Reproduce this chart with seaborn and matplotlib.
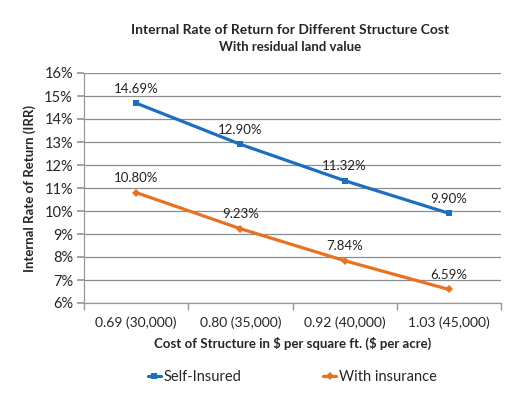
import numpy as np
import pandas as pd
import matplotlib.pyplot as plt
import seaborn as sns

costs = ["0.69 (30,000)", "0.80 (35,000)", "0.92 (40,000)", "1.03 (45,000)"]
self_insured = [14.69, 12.90, 11.32, 9.90]
with_insurance = [10.80, 9.23, 7.84, 6.59]
series_names = ["Self-Insured", "With insurance"]

df = pd.DataFrame({
    "cost": costs * 2,
    "irr": self_insured + with_insurance,
    "series": [series_names[0]] * 4 + [series_names[1]] * 4,
})
df["pos"] = list(range(len(costs))) * 2

sns.set_theme(style="white")
plt.rcParams["font.family"] = ["Lato", "DejaVu Sans"]

fig = plt.figure(figsize=(5.28, 3.96), dpi=100)
ax = fig.add_axes([84 / 528, 1 - 303 / 396, 417 / 528, 230 / 396])

palette = {"Self-Insured": "#1C6FC0", "With insurance": "#E8721F"}
markers = {"Self-Insured": "s", "With insurance": "D"}
sizes = {"Self-Insured": 5, "With insurance": 4}

for name in series_names:
    sub = df[df["series"] == name]
    sns.lineplot(data=sub, x="pos", y="irr", color=palette[name], marker=markers[name],
                 markersize=sizes[name], markeredgewidth=0, linewidth=2.3, ax=ax, label=name)
    for x, y in zip(sub["pos"], sub["irr"]):
        ax.annotate(f"{y:.2f}%", (x, y), xytext=(0, 6), textcoords="offset points",
                    ha="center", va="bottom", fontsize=9.5, color="#222222")

ax.set_xlim(-0.5, 3.5)
ax.set_ylim(6, 16)
ax.set_yticks(np.arange(6, 17, 1))
ax.set_yticklabels([f"{v}%" for v in range(6, 17)], fontsize=10.5)
ax.set_xticks(range(len(costs)))
ax.set_xticklabels(costs, fontsize=10)
ax.set_xticks([-0.5, 0.5, 1.5, 2.5, 3.5], minor=True)
ax.tick_params(axis="x", which="major", length=0, pad=10)
ax.tick_params(axis="x", which="minor", length=5, color="#999999", direction="out", bottom=True)
ax.tick_params(axis="y", length=5, color="#999999", direction="out", left=True, pad=3)
ax.grid(axis="y", color="#8c8c8c", linewidth=0.9)
for s in ["top", "right"]:
    ax.spines[s].set_visible(False)
for s in ["left", "bottom"]:
    ax.spines[s].set_color("#999999")
    ax.spines[s].set_linewidth(0.9)

ax.set_xlabel(r"Cost of Structure in \$ per square ft. (\$ per acre)", fontsize=9.5,
              fontweight="bold", labelpad=5)
ax.set_ylabel("Internal Rate of Return (IRR)", fontsize=9.5, fontweight="bold", labelpad=6)

fig.text(290 / 528, 1 - 30 / 396, "Internal Rate of Return for Different Structure Cost",
         ha="center", va="center", fontsize=10, fontweight="bold")
fig.text(290 / 528, 1 - 47 / 396, "With residual land value", ha="center", va="center",
         fontsize=9.5, fontweight="bold")

ax.legend(loc="center", bbox_to_anchor=(0.5, (303 - 377) / 230), ncol=2, frameon=False,
          fontsize=10.5, columnspacing=5.6, handlelength=0.9, handletextpad=0.2)

fig.savefig("out.png", dpi=100)
